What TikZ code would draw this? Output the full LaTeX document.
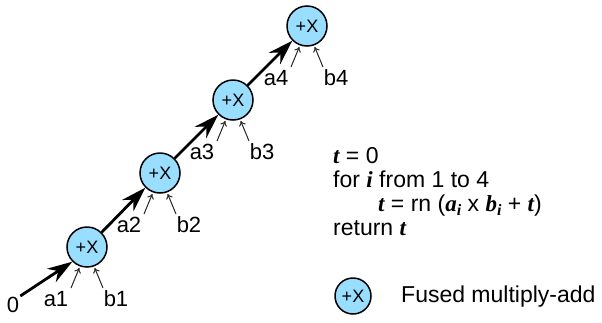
\documentclass[tikz,border=0pt]{standalone}
\usepackage{fontspec}
\setmainfont{Liberation Sans}
\newfontfamily\varfont{Liberation Serif}
\usetikzlibrary{arrows.meta,calc}
\definecolor{fillblue}{HTML}{99DDFF}
\newcommand{\vv}[1]{{\varfont\bfseries\itshape #1}}
\newcommand{\vsub}[1]{\raisebox{-4pt}{\fontsize{16}{16}\selectfont\vv{#1}}}
\begin{document}
\begin{tikzpicture}[x=1pt,y=-1pt,
  fma/.style={circle,draw=black,fill=fillblue,line width=1.5pt,minimum size=40pt,inner sep=0pt,font=\fontsize{18}{18}\selectfont},
  lbl/.style={font=\fontsize{22}{22}\selectfont,inner sep=1pt},
  thick arrow/.style={line width=2.8pt,-{Stealth[length=25pt,width=16pt,inset=8pt]}},
  thin arrow/.style={line width=1pt,black!85,shorten >=1.5pt,-{To[length=5pt,width=7pt]}},
  code/.style={font=\fontsize{23}{23}\selectfont,anchor=base west,inner sep=0pt}]
\useasboundingbox (0,0) rectangle (602,322);
% nodes
\node[fma] (n1) at (87,247) {+X};
\node[fma] (n2) at (160,173) {+X};
\node[fma] (n3) at (233,100) {+X};
\node[fma] (n4) at (307,26) {+X};
\node[lbl] (z) at (13,305) {0};
\foreach \i in {1,2,3,4}{
  \node[lbl] (a\i) at ($(n\i)+(-31,52)$) {a\i};
  \node[lbl] (b\i) at ($(n\i)+(29,52)$) {b\i};
  \coordinate (as\i) at ($(n\i)+(-16,41)$);
  \coordinate (bs\i) at ($(n\i)+(16,41)$);
  \draw[thin arrow] (as\i) -- (n\i.250);
  \draw[thin arrow] (bs\i) -- (n\i.290);
}
\draw[thick arrow] (z.north east) -- (n1.225);
\draw[thick arrow] (n1.45) -- (n2.225);
\draw[thick arrow] (n2.45) -- (n3.225);
\draw[thick arrow] (n3.45) -- (n4.225);
% code
\node[code] (c1) at (333,163) {\vv{t} = 0};
\node[code] (c2) at (333,187) {for \vv{i} from 1 to 4};
\node[code] (c3) at (378,211) {\vv{t} = rn (\vv{a}\vsub{i} x \vv{b}\vsub{i} + \vv{t})};
\node[code] (c4) at (333,235) {return \vv{t}};
% legend
\node[fma,minimum size=36pt] (lg) at (353,296) {+X};
\node[code,anchor=west] (lt) at (401,297) {Fused multiply-add};
\end{tikzpicture}
\end{document}
